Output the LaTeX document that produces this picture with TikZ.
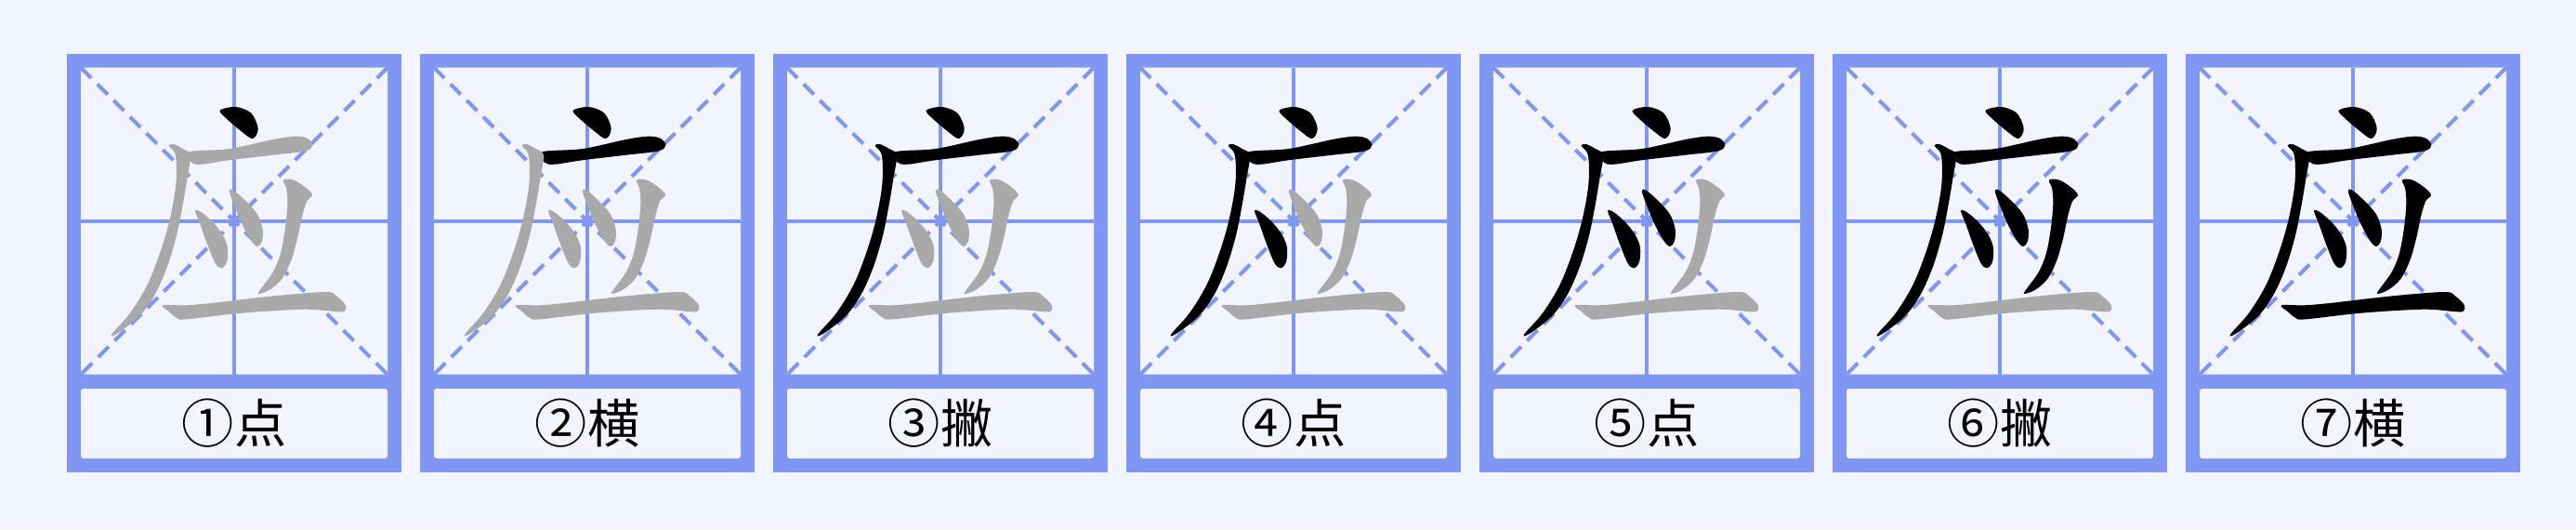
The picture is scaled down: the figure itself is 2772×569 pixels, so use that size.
\documentclass[tikz,border=0pt]{standalone}
\usepackage{fontspec}
\newfontfamily\cjk{Noto Sans CJK SC}
\definecolor{gridblue}{HTML}{7F97F3}
\definecolor{paper}{HTML}{F2F5FF}
\definecolor{inkgray}{HTML}{A9A9A9}

\tikzset{
  frame/.style={fill=gridblue},
  cell/.style={fill=paper, rounded corners=0.8pt},
  guide/.style={draw=gridblue, line width=1.15pt},
  diag/.style={draw=gridblue, line width=1.15pt, dash pattern=on 4.5pt off 2.6pt},
  steplabel/.style={font=\cjk\fontsize{16}{16}\selectfont, inner sep=0pt},
  brush/.style={smooth cycle, tension=0.55}
}

% strokes of the character, in pixels from the top left corner of the grid
\newcommand\dotTop{plot[brush] coordinates {(150,45.7) (166.7,42.3) (183.3,49) (190.7,65.7) (185,76.3) (173.3,69) (155,53.3)}}
\newcommand\hengTop{plot[brush] coordinates {(116,90.7) (160,87.3) (206.7,77.3) (230,74) (243.3,76) (249.3,83.3) (241.7,89.7) (206.7,94) (160,99.5) (130,104) (119,102)}}
\newcommand\pieLeft{plot[brush] coordinates {(94.7,84) (101.3,92.3) (103,110.6) (101.3,134) (94.7,167.3) (84.7,200.6) (71.3,234) (53,264) (33,287) (39.7,285.6) (63,267.3) (79.7,244) (93,214) (103,180.6) (109.7,147.3) (114.7,117.3) (118,94) (109.7,87.3) (99.7,82.3)}}
\newcommand\dotLeft{plot[brush] coordinates {(123,154) (128,167.3) (136.3,190.6) (144.7,210.6) (151.3,215.6) (157,209) (158,194) (153,180.6) (143,167.3) (129.7,155.6)}}
\newcommand\dotMid{plot[brush] coordinates {(159.7,132.3) (164.7,147.3) (173,167.3) (183,185.6) (189.7,192.3) (194.7,187.3) (195.7,174) (189.7,157.3) (176.3,142.3) (164.7,132.3)}}
\newcommand\pieRight{plot[brush] coordinates {(218,121) (228,120.6) (239.7,127.3) (249,136.6) (243,144) (238,160.6) (233,184) (226.3,207.3) (216.3,227.3) (203,239) (191.3,243.3) (193,239) (206.3,220.6) (214.7,200.6) (219.7,174) (222.3,147.3) (221.3,130.6)}}
\newcommand\hengBottom{plot[brush] coordinates {(88,255.6) (113,255.6) (140,253.3) (206.7,245.7) (263.3,241.3) (275,245.7) (285,255.7) (283.3,262.3) (273.3,262.3) (240,260) (173.3,264) (113.3,270.7) (103,269) (94.7,262.3)}}

\begin{document}
\begin{tikzpicture}[x=0.01cm, y=-0.01cm]
 \useasboundingbox (0,0) rectangle (2772,569);
 \fill[paper] (0,0) rectangle (2772,569); %background

 \foreach \i/\num/\name in {1/①/点, 2/②/横, 3/③/撇, 4/④/点, 5/⑤/点, 6/⑥/撇, 7/⑦/横} {
   \pgfmathsetmacro\ox{72+(\i-1)*380}
   \begin{scope}[shift={(\ox,0)}]
     \fill[frame] (0,58) rectangle (360,508); %frame
     \fill[cell] (15,72.7) rectangle (345,402.7);
     \fill[cell] (15,418) rectangle (345,493);
     \coordinate (tl\i) at (15,72.7);
     \coordinate (br\i) at (345,402.7);
     \draw[guide] (180,72.7) -- (180,402.7);
     \draw[guide] (15,237.7) -- (345,237.7);
     \draw[diag] (tl\i) -- (br\i);
     \draw[diag] (345,72.7) -- (15,402.7);
     \begin{scope}[shift={(tl\i)}]
       \foreach \k/\shape in {1/\dotTop, 2/\hengTop, 3/\pieLeft, 4/\dotLeft, 5/\dotMid, 6/\pieRight, 7/\hengBottom} {
         \ifnum\k>\i\relax \def\ink{inkgray}\else \def\ink{black}\fi
         \fill[\ink] \shape;
       }
     \end{scope}
     \node[steplabel] (step\i) at (180,455.5) {\num\name}; %label
   \end{scope}
 }
\end{tikzpicture}
\end{document}
